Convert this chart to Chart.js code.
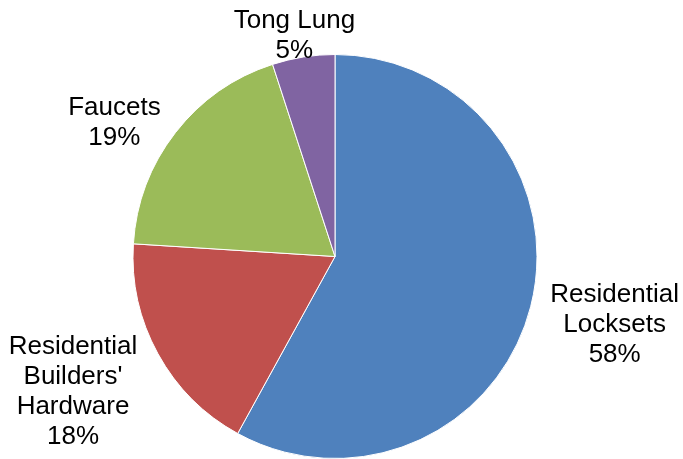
<!DOCTYPE html>
<html lang="en">
  <head>
    <meta charset="UTF-8" />
    <title>Product Mix</title>
    <script src="https://cdn.jsdelivr.net/npm/chart.js"></script>
    <style>
      html, body { margin: 0; padding: 0; background: #fff; }
      canvas { display: block; }
    </style>
  </head>
  <body>
    <canvas id="chartMix" width="683" height="459"></canvas>

    <script>
      // Product mix (share of sales, %)
      const categories = [
        ["Residential", "Locksets"],
        ["Residential", "Builders'", "Hardware"],
        ["Faucets"],
        ["Tong Lung"],
      ];
      const shares = [58, 18, 19, 5];
      const colors = ["#4F81BD", "#C0504D", "#9BBB59", "#8064A2"];

      // label nudge from the slice's outer edge midpoint
      const labelNudge = [
        [84, 18],
        [-85, 38],
        [-61, -10],
        [-9, -21],
      ];

      const outsideLabels = {
        id: "outsideLabels",
        afterDatasetsDraw(chart) {
          const ctx = chart.ctx;
          const meta = chart.getDatasetMeta(0);
          ctx.save();
          ctx.font = '26px "Liberation Sans", Arial, sans-serif';
          ctx.fillStyle = "#000";
          ctx.textAlign = "center";
          ctx.textBaseline = "middle";
          const lineH = 30;
          meta.data.forEach((arc, i) => {
            const p = arc.getProps(["x", "y", "startAngle", "endAngle", "outerRadius"], true);
            const mid = (p.startAngle + p.endAngle) / 2;
            const cx = p.x + Math.cos(mid) * p.outerRadius + labelNudge[i][0];
            const cy = p.y + Math.sin(mid) * p.outerRadius + labelNudge[i][1];
            const lines = categories[i].concat([shares[i] + "%"]);
            const top = cy - ((lines.length - 1) * lineH) / 2;
            lines.forEach((t, j) => ctx.fillText(t, cx, top + j * lineH));
          });
          ctx.restore();
        },
      };

      new Chart(document.getElementById("chartMix").getContext("2d"), {
        type: "pie",
        data: {
          labels: categories.map((c) => c.join(" ")),
          datasets: [
            {
              data: shares,
              backgroundColor: colors,
              borderColor: "#fff",
              borderWidth: 1,
            },
          ],
        },
        options: {
          responsive: false,
          animation: false,
          layout: { padding: { left: 132, right: 145, top: 54, bottom: -1 } },
          plugins: {
            legend: { display: false },
            tooltip: { enabled: false },
          },
        },
        plugins: [outsideLabels],
      });
    </script>
  </body>
</html>
